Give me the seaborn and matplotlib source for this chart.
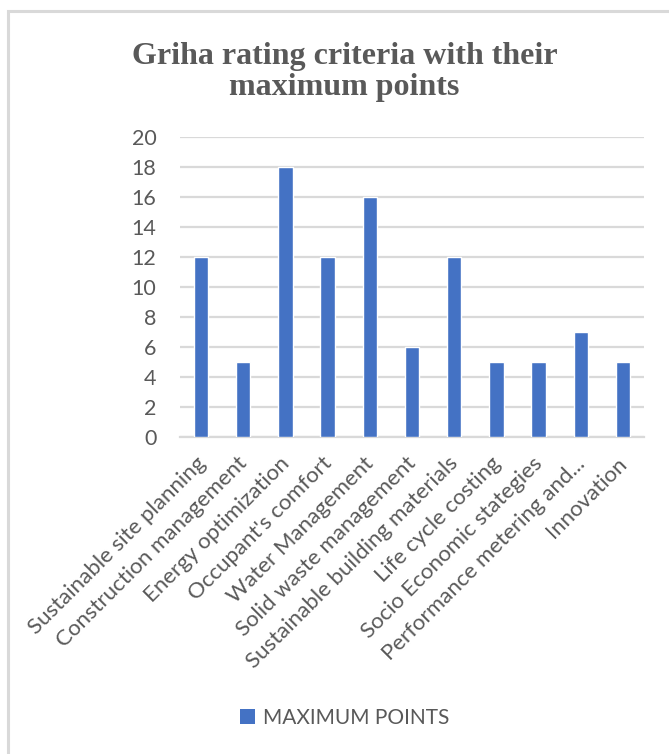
import matplotlib
matplotlib.use("Agg")
import matplotlib.pyplot as plt
import matplotlib.transforms as mtransforms
import seaborn as sns
import pandas as pd
from matplotlib.patches import Rectangle

categories = [
    "Sustainable site planning",
    "Construction management",
    "Energy optimization",
    "Occupant's comfort",
    "Water Management",
    "Solid waste management",
    "Sustainable building materials",
    "Life cycle costing",
    "Socio Economic stategies",
    "Performance metering and...",
    "Innovation",
]
max_points = [12, 5, 18, 12, 16, 6, 12, 5, 5, 7, 5]
y_ticks = [0, 2, 4, 6, 8, 10, 12, 14, 16, 18, 20]
series_name = "MAXIMUM POINTS"
title = "Griha rating criteria with their\nmaximum points"

df = pd.DataFrame({"category": categories, "points": max_points})

sns.set_theme(style="white")
plt.rcParams["font.family"] = ["Lato", "DejaVu Sans"]

W, H = 669, 754
fig = plt.figure(figsize=(W / 100, H / 100), dpi=100)
fig.patch.set_facecolor("white")

# outer chart border (only top/left visible in crop)
fig.add_artist(Rectangle((7.5 / W, -0.05), 1.2, 1.05 - 10.5 / H,
                         transform=fig.transFigure, fill=False,
                         edgecolor="#d9d9d9", linewidth=2.2, zorder=0))

ax = fig.add_axes([180 / W, (H - 437) / H, 464 / W, 300 / H])
bar_color = "#4472C4"
sns.barplot(data=df, x="category", y="points", color=bar_color, width=0.34,
            saturation=1, ax=ax, zorder=3)

ax.set_ylim(0, 20)
ax.set_xlim(-0.5, len(categories) - 0.5)
ax.set_yticks(y_ticks)
ax.set_yticklabels([str(v) for v in y_ticks])
ax.yaxis.grid(True, color="#d9d9d9", linewidth=1.6, zorder=0)
ax.xaxis.grid(False)
for s in ["top", "right", "left"]:
    ax.spines[s].set_visible(False)
ax.spines["bottom"].set_color("#d9d9d9")
ax.spines["bottom"].set_linewidth(1.6)
ax.set_xlabel("")
ax.set_ylabel("")
ax.tick_params(axis="y", length=0, pad=17, labelsize=15.5, labelcolor="#595959")
ax.tick_params(axis="x", length=0, pad=6, labelsize=16, labelcolor="#595959")
ax.set_xticks(range(len(categories)))
ax.set_xticklabels(categories, rotation=45, ha="right", va="top",
                   rotation_mode="anchor")
offset = mtransforms.ScaledTranslation(-6 / 100, -8 / 100, fig.dpi_scale_trans)
for lbl in ax.get_xticklabels():
    lbl.set_transform(lbl.get_transform() + offset)

fig.text(0.515, (H - 95) / H, title, ha="center", va="baseline",
         fontsize=23, fontweight="bold", color="#595959",
         family=["Liberation Serif", "DejaVu Serif"], linespacing=1.1)

handle = Rectangle((0, 0), 1, 1, facecolor=bar_color, edgecolor="none")
fig.legend([handle], [series_name], loc="center", bbox_to_anchor=(345 / W, (H - 718) / H),
           frameon=False, fontsize=15, labelcolor="#595959",
           handlelength=0.7, handleheight=0.7, handletextpad=0.4)

fig.savefig("out.png", dpi=100, facecolor="white")
